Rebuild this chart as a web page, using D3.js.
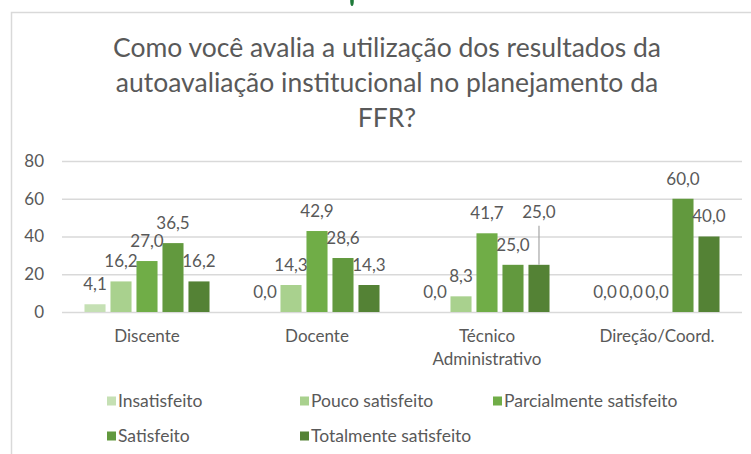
<!DOCTYPE html>
<html>
<head>
<meta charset="utf-8">
<script src="https://cdn.jsdelivr.net/npm/d3@7"></script>
<style>
  body { margin: 0; background: #fff; }
  text { font-family: Lato, "Open Sans", sans-serif; fill: #595959; }
</style>
</head>
<body>
<div id="chart"></div>
<script>
// data
var categories = ["Discente", "Docente", "Técnico Administrativo", "Direção/Coord."];
var seriesNames = ["Insatisfeito", "Pouco satisfeito", "Parcialmente satisfeito", "Satisfeito", "Totalmente satisfeito"];
var insatisfeito    = [4.1, 0.0, 0.0, 0.0];
var poucoSatisfeito = [16.2, 14.3, 8.3, 0.0];
var parcialmente    = [27.0, 42.9, 41.7, 0.0];
var satisfeito      = [36.5, 28.6, 25.0, 60.0];
var totalmente      = [16.2, 14.3, 25.0, 40.0];
var yTicks = [0, 20, 40, 60, 80];
var titleLines = ["Como você avalia a utilização dos resultados da",
                  "autoavaliação institucional no planejamento da",
                  "FFR?"];

var seriesValues = [insatisfeito, poucoSatisfeito, parcialmente, satisfeito, totalmente];
var colors = ["#c5e0b4", "#a9d18e", "#70ad47", "#62993e", "#548235"];

var width = 751, height = 454,
    margin = {top: 161, right: 9, bottom: 142, left: 62};

var svg = d3.select("#chart").append("svg")
    .attr("width", width)
    .attr("height", height);

svg.append("rect").attr("width", width).attr("height", height).attr("fill", "#fff");

// chart frame (right and bottom edges fall outside the picture)
svg.append("rect")
    .attr("x", 11.5).attr("y", 12.5)
    .attr("width", 800).attr("height", 500)
    .attr("fill", "none").attr("stroke", "#d9d9d9").attr("stroke-width", 1.5);

// bit of a logo cut off at the top
svg.append("ellipse")
    .attr("cx", 352).attr("cy", 1).attr("rx", 1.8).attr("ry", 5)
    .attr("fill", "#1f7a3a");

// title
svg.append("g").selectAll("text")
    .data(titleLines)
  .enter().append("text")
    .attr("x", 387)
    .attr("y", function(d, i) { return 57 + i * 35; })
    .attr("text-anchor", "middle")
    .style("font-size", "26.5px")
    .text(function(d) { return d; });

var x0 = d3.scaleBand()
    .domain(categories)
    .range([margin.left, width - margin.right]);

var x1 = d3.scaleBand()
    .domain(seriesNames)
    .range([0, x0.bandwidth()])
    .paddingInner(0.19)
    .paddingOuter(0.865);

var y = d3.scaleLinear()
    .domain([0, 80])
    .range([height - margin.bottom, margin.top]);

// y axis + gridlines
var yAxis = svg.append("g")
    .attr("transform", "translate(" + margin.left + ",0)")
    .call(d3.axisLeft(y).tickValues(yTicks)
          .tickSizeInner(-(width - margin.left - margin.right))
          .tickSizeOuter(0)
          .tickPadding(18));
yAxis.select(".domain").remove();
yAxis.selectAll("line").attr("stroke", "#d9d9d9").attr("stroke-width", 1.3);
yAxis.selectAll("text").style("font-size", "17px").attr("fill", "#595959");

// x axis labels
var xAxis = svg.append("g")
    .attr("transform", "translate(0," + y(0) + ")")
    .call(d3.axisBottom(x0).tickSize(0).tickPadding(18));
xAxis.select(".domain").remove();
xAxis.selectAll("text")
    .style("font-size", "17px")
    .attr("fill", "#595959")
    .call(wrap, x0.bandwidth() * 0.88);

function wrap(text, maxW) {
  text.each(function() {
    var t = d3.select(this),
        words = t.text().split(/\s+/),
        yy = t.attr("y"), dy = parseFloat(t.attr("dy")),
        line = [], lineNo = 0,
        tspan = t.text(null).append("tspan").attr("x", 0).attr("y", yy).attr("dy", dy + "em");
    words.forEach(function(w) {
      line.push(w);
      tspan.text(line.join(" "));
      if (tspan.node().getComputedTextLength() > maxW && line.length > 1) {
        line.pop();
        tspan.text(line.join(" "));
        line = [w];
        tspan = t.append("tspan").attr("x", 0).attr("y", yy)
            .attr("dy", (++lineNo * 1.35 + dy) + "em").text(w);
      }
    });
  });
}

// bars
var rows = categories.map(function(c, ci) {
  return seriesNames.map(function(s, si) {
    return {cat: c, series: s, si: si, value: seriesValues[si][ci]};
  });
});

var groups = svg.append("g").selectAll("g.cat")
    .data(rows)
  .enter().append("g")
    .attr("class", "cat")
    .attr("transform", function(d) { return "translate(" + x0(d[0].cat) + ",0)"; });

groups.selectAll("rect")
    .data(function(d) { return d; })
  .enter().append("rect")
    .attr("x", function(d) { return x1(d.series); })
    .attr("width", x1.bandwidth())
    .attr("y", function(d) { return y(d.value); })
    .attr("height", function(d) { return y(0) - y(d.value); })
    .attr("fill", function(d) { return colors[d.si]; });

// data labels; Excel pushed one up with a leader line
var labelGap = 20, liftedGap = 53;
function isLifted(d) { return d.cat === "Técnico Administrativo" && d.series === "Totalmente satisfeito"; }

groups.selectAll("line.leader")
    .data(function(d) { return d.filter(isLifted); })
  .enter().append("line")
    .attr("class", "leader")
    .attr("x1", function(d) { return x1(d.series) + x1.bandwidth() / 2; })
    .attr("x2", function(d) { return x1(d.series) + x1.bandwidth() / 2; })
    .attr("y1", function(d) { return y(d.value) - liftedGap + 14; })
    .attr("y2", function(d) { return y(d.value); })
    .attr("stroke", "#a6a6a6").attr("stroke-width", 1.2);

groups.selectAll("text.lbl")
    .data(function(d) { return d; })
  .enter().append("text")
    .attr("class", "lbl")
    .attr("x", function(d) { return x1(d.series) + x1.bandwidth() / 2; })
    .attr("y", function(d) { return y(d.value) - (isLifted(d) ? liftedGap : labelGap); })
    .attr("dy", "0.35em")
    .attr("text-anchor", "middle")
    .style("font-size", "17px")
    .text(function(d) { return d3.format(".1f")(d.value).replace(".", ","); });

// legend
var legend = svg.append("g").selectAll("g.leg")
    .data(seriesNames)
  .enter().append("g")
    .attr("class", "leg")
    .attr("transform", function(d, i) {
      return "translate(" + (107 + (i % 3) * 193) + "," + (401 + Math.floor(i / 3) * 35) + ")";
    });

legend.append("rect")
    .attr("x", 0).attr("y", -4.5)
    .attr("width", 9).attr("height", 9)
    .attr("fill", function(d, i) { return colors[i]; });

legend.append("text")
    .attr("x", 11).attr("dy", "0.35em")
    .style("font-size", "17.5px")
    .text(function(d) { return d; });
</script>
</body>
</html>
